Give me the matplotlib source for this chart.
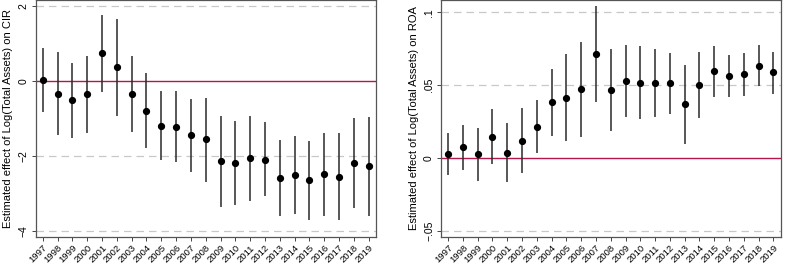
import matplotlib.pyplot as plt
import numpy as np

plt.rcParams['font.family'] = ['Liberation Sans', 'DejaVu Sans']

years = list(range(1997, 2020))

# effect of log(total assets) on CIR, with 95% CI bounds
cir = [0.03, -0.34, -0.52, -0.36, 0.74, 0.36, -0.35, -0.79, -1.19, -1.22, -1.45, -1.56,
       -2.14, -2.19, -2.06, -2.10, -2.59, -2.50, -2.65, -2.49, -2.56, -2.20, -2.26]
cir_hi = [0.87, 0.76, 0.49, 0.67, 1.76, 1.64, 0.66, 0.22, -0.27, -0.28, -0.48, -0.45,
          -0.93, -1.06, -0.93, -1.10, -1.57, -1.46, -1.59, -1.38, -1.39, -1.00, -0.95]
cir_lo = [-0.84, -1.45, -1.52, -1.38, -0.29, -0.93, -1.36, -1.80, -2.12, -2.16, -2.42, -2.69,
          -3.35, -3.31, -3.19, -3.08, -3.60, -3.54, -3.72, -3.59, -3.72, -3.40, -3.60]

# effect of log(total assets) on ROA
roa = [0.0030, 0.0075, 0.0025, 0.0148, 0.0034, 0.0119, 0.0215, 0.0384, 0.0416, 0.0473, 0.0715, 0.0468,
       0.0530, 0.0518, 0.0514, 0.0514, 0.0370, 0.0502, 0.0596, 0.0564, 0.0578, 0.0635, 0.0589]
roa_hi = [0.0174, 0.0228, 0.0210, 0.0338, 0.0240, 0.0345, 0.0397, 0.0614, 0.0715, 0.0797, 0.1041, 0.0751,
          0.0779, 0.0767, 0.0747, 0.0721, 0.0642, 0.0728, 0.0767, 0.0710, 0.0719, 0.0774, 0.0728]
roa_lo = [-0.0114, -0.0082, -0.0160, -0.0043, -0.0167, -0.0103, 0.0032, 0.0155, 0.0121, 0.0148, 0.0384, 0.0189,
          0.0281, 0.0267, 0.0279, 0.0304, 0.0100, 0.0276, 0.0422, 0.0418, 0.0429, 0.0495, 0.0443]

cir_ticks = [-4, -2, 0, 2]
cir_labels = ['\u22124', '\u22122', '0', '2']
roa_ticks = [-0.05, 0, 0.05, 0.1]
roa_labels = ['\u2212.05', '0', '.05', '.1']

fig = plt.figure(figsize=(7.87, 2.67), dpi=100)
ax1 = fig.add_axes([0.0454, 0.1124, 0.4324, 0.8876])
ax2 = fig.add_axes([0.5604, 0.1124, 0.4316, 0.8876])


def panel(ax, est, lo, hi, ticks, labels, ylim, ylabel):
    x = np.array(years)
    est, lo, hi = np.array(est), np.array(lo), np.array(hi)
    for t in ticks:
        if t != 0:
            ax.axhline(t, color='#c8c8c8', lw=0.9, ls=(0, (6, 4)), zorder=0)
    ax.axhline(0, color='#b5174a', lw=1.0, zorder=1)
    ax.vlines(x, lo, hi, color='#2a2a2a', lw=1.1, zorder=2)
    ax.plot(x, est, 'o', color='black', ms=4.2, zorder=3)
    ax.set_xlim(1996.52, 2019.5)
    ax.set_ylim(*ylim)
    ax.set_xticks(years)
    ax.set_xticklabels([str(y) for y in years], rotation=45, ha='right',
                       rotation_mode='anchor', fontsize=6.8)
    ax.set_yticks(ticks)
    ax.set_yticklabels(labels, rotation=90, va='center', fontsize=7.5)
    ax.tick_params(axis='both', length=3, width=0.7, color='#444444', pad=2)
    ax.tick_params(axis='x', pad=1.5)
    ax.set_ylabel(ylabel, fontsize=8, labelpad=4)
    for s in ax.spines.values():
        s.set_color('#555555')
        s.set_linewidth(0.9)


panel(ax1, cir, cir_lo, cir_hi, cir_ticks, cir_labels, (-4.16, 2.16),
      'Estimated effect of Log(Total Assets) on CIR')
panel(ax2, roa, roa_lo, roa_hi, roa_ticks, roa_labels, (-0.0541, 0.1085),
      'Estimated effect of Log(Total Assets) on ROA')

fig.savefig('out.png', dpi=100)
